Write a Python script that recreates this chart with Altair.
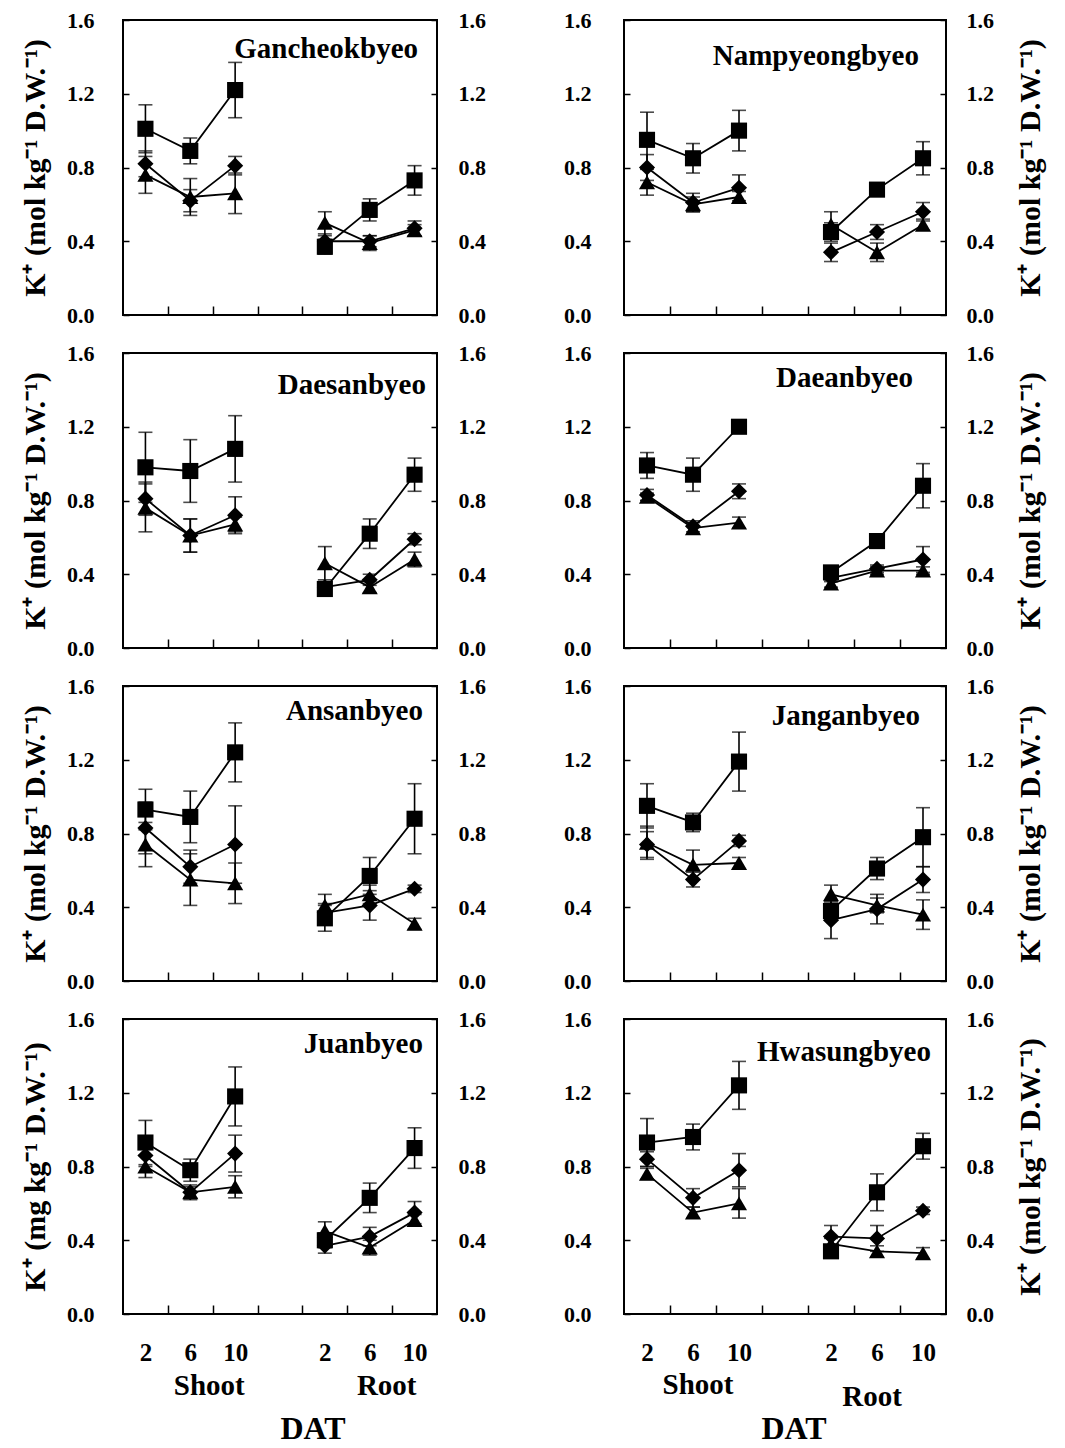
import altair as alt
import pandas as pd

FONT = "Liberation Serif"

# ---------------- data ----------------
cultivars = ["Gancheokbyeo", "Nampyeongbyeo", "Daesanbyeo", "Daeanbyeo",
             "Ansanbyeo", "Janganbyeo", "Juanbyeo", "Hwasungbyeo"]
units = ["mol", "mol", "mol", "mol", "mol", "mol", "mg", "mol"]
organs = ["Shoot", "Shoot", "Shoot", "Root", "Root", "Root"]
dats = [2, 6, 10, 2, 6, 10]
organ_names = ["Shoot", "Root"]
dat_labels = ["2", "6", "10"]

square_vals = [
    [1.01, 0.89, 1.22, 0.37, 0.57, 0.73],
    [0.95, 0.85, 1.00, 0.45, 0.68, 0.85],
    [0.98, 0.96, 1.08, 0.32, 0.62, 0.94],
    [0.99, 0.94, 1.20, 0.41, 0.58, 0.88],
    [0.93, 0.89, 1.24, 0.34, 0.57, 0.88],
    [0.95, 0.86, 1.19, 0.38, 0.61, 0.78],
    [0.93, 0.78, 1.18, 0.40, 0.63, 0.90],
    [0.93, 0.96, 1.24, 0.34, 0.66, 0.91],
]
square_err = [
    [0.13, 0.07, 0.15, 0.04, 0.06, 0.08],
    [0.15, 0.08, 0.11, 0.05, 0.02, 0.09],
    [0.19, 0.17, 0.18, 0.03, 0.08, 0.09],
    [0.07, 0.09, 0.02, 0.02, 0.02, 0.12],
    [0.11, 0.14, 0.16, 0.07, 0.10, 0.19],
    [0.12, 0.05, 0.16, 0.04, 0.06, 0.16],
    [0.12, 0.06, 0.16, 0.04, 0.08, 0.11],
    [0.13, 0.07, 0.13, 0.03, 0.10, 0.07],
]
diamond_vals = [
    [0.82, 0.62, 0.81, 0.40, 0.40, 0.47],
    [0.80, 0.61, 0.69, 0.34, 0.45, 0.56],
    [0.81, 0.61, 0.72, 0.33, 0.37, 0.59],
    [0.83, 0.66, 0.85, 0.38, 0.43, 0.48],
    [0.83, 0.62, 0.74, 0.37, 0.41, 0.50],
    [0.74, 0.55, 0.76, 0.33, 0.39, 0.55],
    [0.86, 0.66, 0.87, 0.37, 0.42, 0.55],
    [0.84, 0.63, 0.78, 0.42, 0.41, 0.56],
]
diamond_err = [
    [0.07, 0.06, 0.05, 0.03, 0.03, 0.04],
    [0.07, 0.05, 0.07, 0.05, 0.04, 0.05],
    [0.09, 0.09, 0.10, 0.03, 0.03, 0.03],
    [0.03, 0.03, 0.04, 0.02, 0.02, 0.07],
    [0.14, 0.09, 0.21, 0.05, 0.08, 0.02],
    [0.07, 0.04, 0.03, 0.10, 0.08, 0.07],
    [0.06, 0.04, 0.10, 0.04, 0.05, 0.06],
    [0.04, 0.05, 0.09, 0.06, 0.07, 0.02],
]
triangle_vals = [
    [0.76, 0.64, 0.66, 0.50, 0.39, 0.46],
    [0.72, 0.60, 0.64, 0.49, 0.34, 0.49],
    [0.76, 0.61, 0.67, 0.46, 0.33, 0.48],
    [0.82, 0.65, 0.68, 0.35, 0.42, 0.42],
    [0.74, 0.55, 0.53, 0.41, 0.47, 0.31],
    [0.75, 0.63, 0.64, 0.47, 0.41, 0.36],
    [0.80, 0.66, 0.69, 0.45, 0.36, 0.51],
    [0.76, 0.55, 0.60, 0.38, 0.34, 0.33],
]
triangle_err = [
    [0.10, 0.10, 0.11, 0.06, 0.04, 0.03],
    [0.07, 0.04, 0.03, 0.07, 0.05, 0.03],
    [0.13, 0.09, 0.04, 0.09, 0.03, 0.04],
    [0.02, 0.03, 0.03, 0.02, 0.02, 0.02],
    [0.12, 0.14, 0.11, 0.06, 0.05, 0.03],
    [0.09, 0.08, 0.03, 0.05, 0.04, 0.08],
    [0.06, 0.03, 0.06, 0.05, 0.04, 0.03],
    [0.03, 0.03, 0.08, 0.03, 0.03, 0.03],
]

rows = []
for k, name in enumerate(cultivars):
    for sname, vals, errs in [("square", square_vals, square_err),
                              ("diamond", diamond_vals, diamond_err),
                              ("triangle", triangle_vals, triangle_err)]:
        for j in range(6):
            rows.append({"cultivar": name, "series": sname, "organ": organs[j],
                         "dat": dats[j], "value": vals[k][j], "err": errs[k][j]})
df = pd.DataFrame(rows)

# ---------------- layout / style ----------------
PANEL_W = [314, 322]
PANEL_H = 295
name_inset = [19, 27, 11, 33, 14, 26, 14, 15]
name_base = [38, 45, 41, 34, 34, 39, 34, 42]
left_pad = [29, 33]
right_pad = [21, 20]
organ_dx = [[19, 17], [5, -5]]
organ_dy = [[72, 72], [71, 83]]
dat_dx = [33, 9]

xs = alt.Scale(domain=[0, 7], nice=False, zero=False)
ys = alt.Scale(domain=[0, 1.6], nice=False)
yvals = [0, 0.4, 0.8, 1.2, 1.6]

axis_common = dict(labelFont=FONT, labelFontWeight="bold", labelFontSize=22,
                   labelColor="black", tickColor="black", tickWidth=1.5,
                   titleFont=FONT, titleFontWeight="bold", titleFontSize=30,
                   titleColor="black", grid=False, domain=False)


def panel(k):
    name = cultivars[k]
    col = k % 2
    bottom = k >= 6
    w = PANEL_W[col]
    ytitle = f"K⁺ ({units[k]} kg⁻¹  D.W.⁻¹)"
    d = df[df.cultivar == name]
    base = alt.Chart(d).transform_calculate(
        xp="datum.dat / 4 + (datum.organ == 'Root' ? 4 : 0)",
        lo="datum.value - datum.err",
        hi="datum.value + datum.err",
        grp="datum.series + '-' + datum.organ",
    )

    tick_axis = alt.Axis(orient="bottom", values=[1, 2, 3, 4, 5, 6], tickSize=9,
                         offset=-9, labels=False, title=None, **axis_common)
    yleft = alt.Axis(orient="left", values=yvals, format=".1f", tickSize=6, offset=-6,
                     labelPadding=left_pad[col], titlePadding=16,
                     title=(ytitle if col == 0 else None), **axis_common)
    yright = alt.Axis(orient="right", values=yvals, format=".1f", tickSize=6, offset=-6,
                      labelPadding=right_pad[col], titlePadding=22,
                      titleAngle=270, titleBaseline="top",
                      title=(ytitle if col == 1 else None), **axis_common)
    if bottom:
        lab_axis = alt.Axis(orient="bottom", values=[0.5, 1.5, 2.5, 4.5, 5.5, 6.5],
                            labelExpr="['" + "','".join(dat_labels) + "'][round(((datum.value % 4) - 0.5))]",
                            ticks=False, labelPadding=26, title=None,
                            **{**axis_common, "labelFontSize": 25})
        xpoint = alt.X("xp:Q", scale=xs, axis=lab_axis)
    else:
        xpoint = alt.X("xp:Q", scale=xs, axis=None)

    lines = base.mark_line(color="black", strokeWidth=1.8).encode(
        x=alt.X("xp:Q", scale=xs, axis=tick_axis),
        y=alt.Y("value:Q", scale=ys, axis=yleft),
        detail="grp:N",
    )
    bars = base.mark_rule(color="black", strokeWidth=1.6).encode(
        x=alt.X("xp:Q", scale=xs, axis=None),
        y=alt.Y("lo:Q", scale=ys, axis=None),
        y2="hi:Q",
    )
    cap_lo = base.mark_tick(color="black", orient="horizontal", size=14, thickness=1.6).encode(
        x=alt.X("xp:Q", scale=xs, axis=None),
        y=alt.Y("lo:Q", scale=ys, axis=None),
    )
    cap_hi = base.mark_tick(color="black", orient="horizontal", size=14, thickness=1.6).encode(
        x=alt.X("xp:Q", scale=xs, axis=None),
        y=alt.Y("hi:Q", scale=ys, axis=None),
    )
    points = base.mark_point(filled=True, color="black", opacity=1, size=260).encode(
        x=xpoint,
        y=alt.Y("value:Q", scale=ys, axis=yright),
        shape=alt.Shape("series:N",
                        scale=alt.Scale(domain=["square", "diamond", "triangle"],
                                        range=["square", "diamond", "triangle-up"]),
                        legend=None),
    )
    title = alt.Chart(pd.DataFrame({"t": [name]})).mark_text(
        font=FONT, fontWeight="bold", fontSize=29, align="right", baseline="alphabetic",
        color="black",
    ).encode(text="t:N", x=alt.value(w - name_inset[k]), y=alt.value(name_base[k]))

    layers = [lines, bars, cap_lo, cap_hi, points, title]

    if bottom:
        org = alt.Chart(pd.DataFrame({"organ": organ_names})).transform_calculate(
            xc="datum.organ == 'Root' ? 5.5 : 1.5")
        for i, oname in enumerate(organ_names):
            layers.append(
                org.transform_filter(alt.datum.organ == oname).mark_text(
                    font=FONT, fontWeight="bold", fontSize=29, baseline="middle",
                    color="black", dx=organ_dx[col][i],
                ).encode(text="organ:N", x=alt.X("xc:Q", scale=xs, axis=None),
                         y=alt.value(PANEL_H + organ_dy[col][i]))
            )
        layers.append(
            alt.Chart(pd.DataFrame({"t": ["DAT"], "xc": [3.5]})).mark_text(
                font=FONT, fontWeight="bold", fontSize=32, baseline="alphabetic",
                color="black", dx=dat_dx[col],
            ).encode(text="t:N", x=alt.X("xc:Q", scale=xs, axis=None),
                     y=alt.value(PANEL_H + 125))
        )

    return alt.layer(*layers).resolve_axis(x="independent", y="independent").properties(
        width=w, height=PANEL_H)


panels = [panel(k) for k in range(len(cultivars))]

chart = alt.concat(*panels, columns=2, spacing={"row": 38, "column": 187},
                   bounds="flush", align="each").configure_view(
    stroke="black", strokeWidth=2
).properties(padding={"left": 11, "top": 0, "right": 5, "bottom": 0})

chart.save("out.html", embed_options={"renderer": "svg", "actions": False})
